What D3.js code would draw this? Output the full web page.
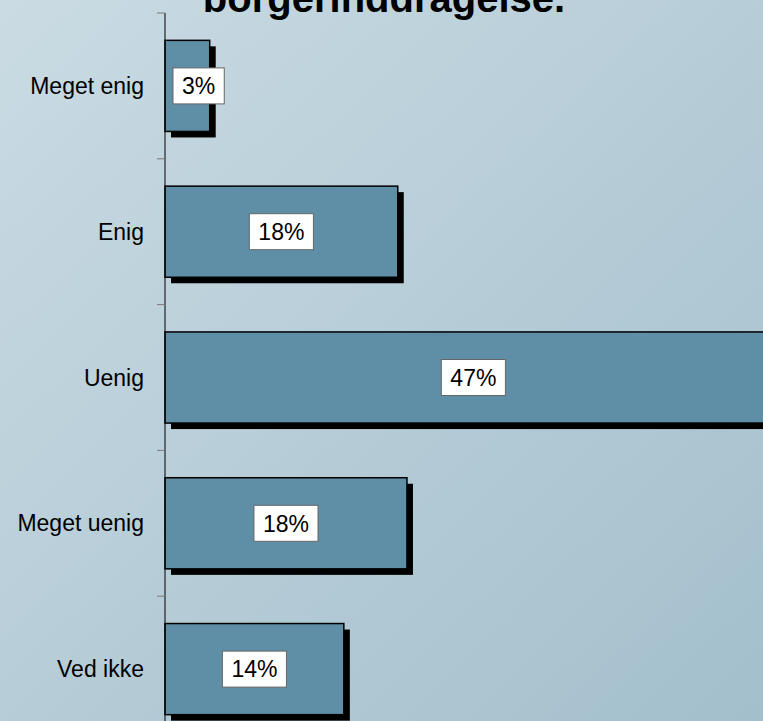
<!DOCTYPE html>
<html>
<head>
<meta charset="utf-8">
<script src="https://cdn.jsdelivr.net/npm/d3@7"></script>
<style>
  html, body { margin: 0; padding: 0; overflow: hidden; }
  svg { display: block; font-family: "Liberation Sans", Arial, sans-serif; }
</style>
</head>
<body>
<div class="container"></div>
<script>
const width = 763,
    height = 721;

// answer categories and shares (%)
const categories = ['Meget enig', 'Enig', 'Uenig', 'Meget uenig', 'Ved ikke'];
const shares = [3.4, 17.7, 46.9, 18.4, 13.6];
const titleText = 'borgerinddragelse.';

const data = categories.map((c, i) => ({ category: c, value: shares[i] }));

const x = d3.scaleLinear()
    .domain([0, 50])
    .range([165, 822.5]);

const y = d3.scaleBand()
    .domain(categories)
    .range([13, 742])
    .paddingInner(0.375)
    .paddingOuter(0.1875);

const svg = d3.select('.container')
    .append('svg')
    .attr('width', width)
    .attr('height', height);

// background gradient
const grad = svg.append('defs')
    .append('linearGradient')
    .attr('id', 'bg')
    .attr('x1', 0).attr('y1', 0)
    .attr('x2', 1).attr('y2', 1);
grad.append('stop').attr('offset', 0).attr('stop-color', '#cadbe3');
grad.append('stop').attr('offset', 1).attr('stop-color', '#a3bfcc');

svg.append('rect')
    .attr('width', width)
    .attr('height', height)
    .attr('fill', 'url(#bg)');

// title (first line is outside the picture)
svg.append('text')
    .attr('x', 384)
    .attr('y', 12)
    .attr('text-anchor', 'middle')
    .attr('font-size', 40)
    .attr('font-weight', 'bold')
    .attr('fill', '#000')
    .text(titleText);

const gap = (y.step() - y.bandwidth()) / 2;

// bars: shadow first, then bar
const bars = svg.selectAll('g.bar')
    .data(data)
    .enter()
    .append('g')
    .attr('class', 'bar');

bars.append('rect')
    .attr('x', x(0) + 6)
    .attr('y', d => y(d.category) + 6)
    .attr('width', d => x(d.value) - x(0))
    .attr('height', y.bandwidth())
    .attr('fill', '#000');

bars.append('rect')
    .attr('x', x(0))
    .attr('y', d => y(d.category))
    .attr('width', d => x(d.value) - x(0))
    .attr('height', y.bandwidth())
    .attr('fill', '#5e8fa7')
    .attr('stroke', '#000')
    .attr('stroke-width', 1.5);

// axis line and ticks at band boundaries
svg.append('line')
    .attr('x1', x(0)).attr('x2', x(0))
    .attr('y1', y.range()[0]).attr('y2', height)
    .attr('stroke', '#000')
    .attr('stroke-width', 1);

svg.selectAll('line.tick')
    .data(categories)
    .enter()
    .append('line')
    .attr('class', 'tick')
    .attr('x1', x(0) - 8).attr('x2', x(0))
    .attr('y1', d => y(d) - gap)
    .attr('y2', d => y(d) - gap)
    .attr('stroke', '#7a7a7a')
    .attr('stroke-width', 1);

// category labels
svg.selectAll('text.cat')
    .data(categories)
    .enter()
    .append('text')
    .attr('class', 'cat')
    .attr('x', x(0) - 21)
    .attr('y', d => y(d) + y.bandwidth() / 2)
    .attr('dy', '0.35em')
    .attr('text-anchor', 'end')
    .attr('font-size', 23)
    .attr('fill', '#000')
    .text(d => d);

// value labels in white boxes
const labels = svg.selectAll('g.lbl')
    .data(data)
    .enter()
    .append('g')
    .attr('class', 'lbl');

labels.each(function(d) {
    const g = d3.select(this);
    const box = g.append('rect');
    const t = g.append('text')
        .attr('font-size', 23)
        .attr('fill', '#000')
        .attr('text-anchor', 'middle')
        .text(Math.round(d.value) + '%');
    const w = t.node().getComputedTextLength() + 18;
    const h = 36;
    const cx = Math.max((x(0) + x(d.value)) / 2, x(0) + 8 + w / 2);
    const cy = y(d.category) + y.bandwidth() / 2;
    box.attr('x', cx - w / 2)
        .attr('y', cy - h / 2)
        .attr('width', w)
        .attr('height', h)
        .attr('fill', '#fff')
        .attr('stroke', '#666')
        .attr('stroke-width', 1);
    t.attr('x', cx).attr('y', cy).attr('dy', '0.36em');
});
</script>
</body>
</html>
